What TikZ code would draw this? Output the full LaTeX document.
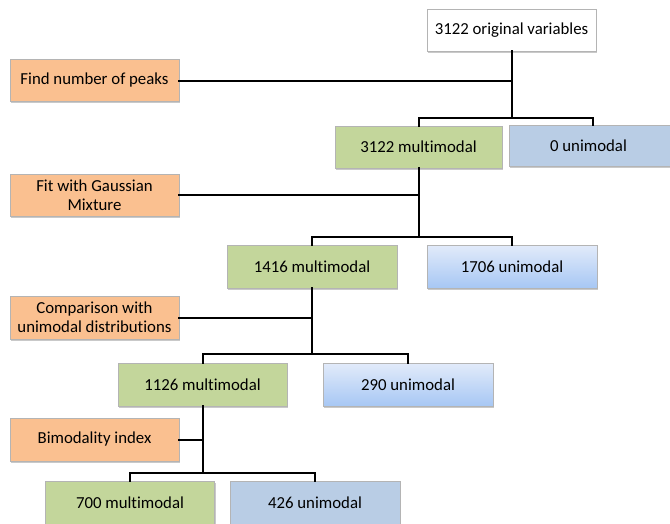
\documentclass[tikz,border=0pt]{standalone}
\usepackage{fontspec}
\setmainfont[Ligatures={NoCommon}]{Carlito}
\usetikzlibrary{shadows}
\definecolor{orangefill}{HTML}{FAC090}
\definecolor{greenfill}{HTML}{C3D69B}
\definecolor{bluefill}{HTML}{B9CDE5}
\definecolor{bluetop}{HTML}{E2EBFA}
\definecolor{bluebot}{HTML}{A7C7F4}
\definecolor{edgegray}{HTML}{B4B4B4}
\begin{document}
\begin{tikzpicture}[x=1pt,y=-1pt,
  box/.style={draw=edgegray, line width=0.6pt, minimum height=42pt, minimum width=169pt,
    inner sep=2pt, align=center, font=\fontsize{16.8}{19}\selectfont,
    drop shadow={shadow xshift=1.2pt, shadow yshift=-1.8pt, opacity=0.35, fill=black!60}},
  stepbox/.style={box, fill=orangefill},
  multibox/.style={box, fill=greenfill},
  unibox/.style={box, fill=bluefill},
  unigrad/.style={box, top color=bluetop, bottom color=bluebot},
  origbox/.style={box, fill=white},
  link/.style={line width=2pt, line cap=rect}]
\useasboundingbox (0,0) rectangle (670,523);
\fill[white] (0,0) rectangle (670,523);

\node[origbox] (orig) at (511.5,30) {3122 original variables};
\node[stepbox] (peaks) at (94.5,80.5) {Find number of peaks};
\node[multibox, minimum width=167pt] (m1) at (418.5,147) {3122 multimodal};
\node[unibox, minimum width=168pt, minimum height=41pt] (u1) at (593,145.5) {\hspace*{-9pt}0 unimodal};
\node[stepbox] (fit) at (94.5,195) {Fit with Gaussian\\Mixture};
\node[multibox, minimum width=170pt, minimum height=43pt] (m2) at (312,266.5) {1416 multimodal};
\node[unigrad, minimum width=170pt, minimum height=43pt] (u2) at (512,266.5) {1706 unimodal};
\node[stepbox, minimum height=43pt] (comp) at (94.5,317.5) {Comparison with\\unimodal distributions};
\node[multibox, minimum height=43pt] (m3) at (202.5,384.5) {1126 multimodal};
\node[unigrad, minimum width=170pt, minimum height=43pt] (u3) at (408,384.5) {290 unimodal};
\node[stepbox, minimum height=43pt] (bim) at (94.5,439.5) {Bimodality index};
\node[multibox, minimum height=43pt] (m4) at (130,502.5) {700 multimodal};
\node[unibox, minimum width=170pt, minimum height=43pt] (u4) at (315,502.5) {426 unimodal};

\coordinate (b1) at (orig.south |- 0,118);
\coordinate (b2) at (m1.south |- 0,237);
\coordinate (b3) at (m2.south |- 0,354);
\coordinate (b4) at (m3.south |- 0,473);

\draw[link] (orig.south) -- (b1);
\draw[link] (peaks.east) -- (peaks.east -| orig.south);
\draw[link] (m1.north) |- (b1) -| (u1.north);

\draw[link] (m1.south) -- (b2);
\draw[link] (fit.east) -- (fit.east -| m1.south);
\draw[link] (m2.north) |- (b2) -| (u2.north);

\draw[link] (m2.south) -- (b3);
\draw[link] (comp.east) -- (comp.east -| m2.south);
\draw[link] (m3.north) |- (b3) -| (u3.north);

\draw[link] (m3.south) -- (b4);
\draw[link] (bim.east) -- (bim.east -| m3.south);
\draw[link] (m4.north) |- (b4) -| (u4.north);
\end{tikzpicture}
\end{document}
